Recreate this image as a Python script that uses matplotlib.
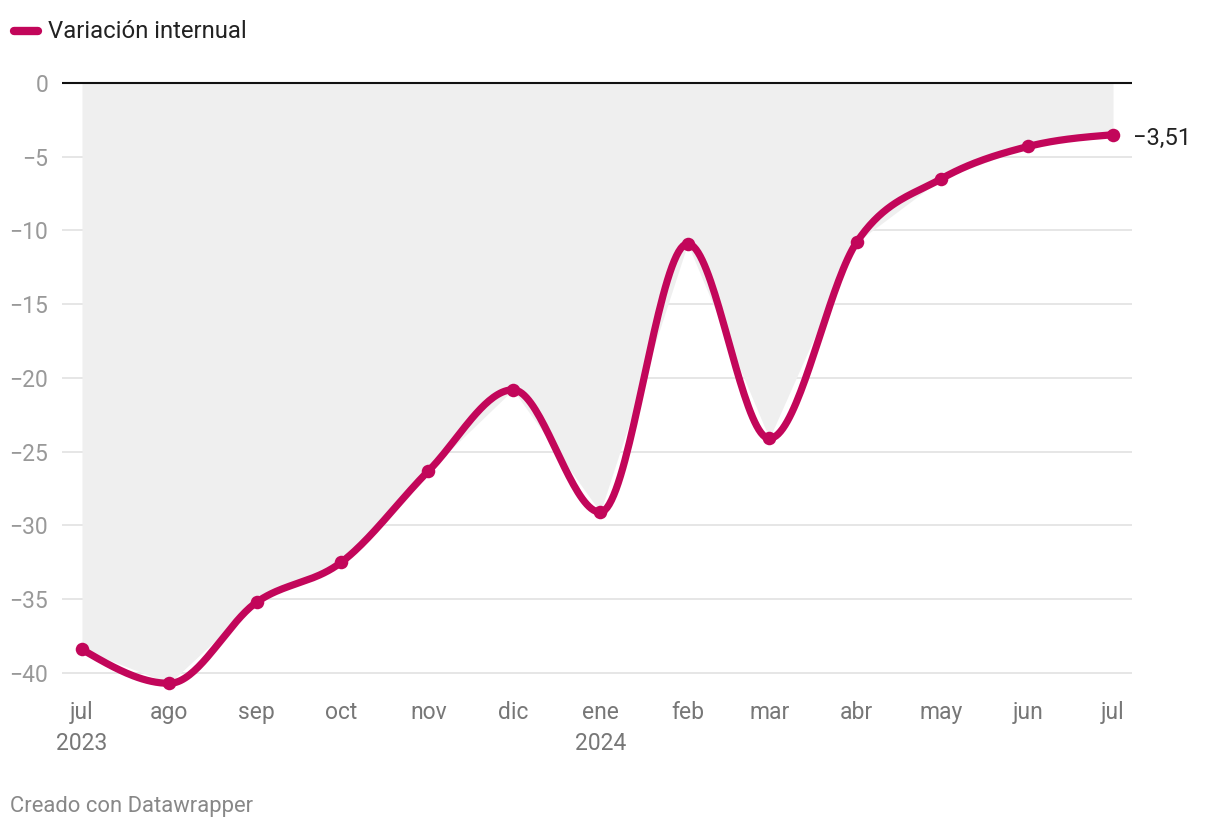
import numpy as np
import matplotlib.pyplot as plt

plt.rcParams['font.family'] = ['Roboto', 'DejaVu Sans']

# data
dates = ['2023-07-01', '2023-08-01', '2023-09-01', '2023-10-01', '2023-11-01',
         '2023-12-01', '2024-01-01', '2024-02-01', '2024-03-01', '2024-04-01',
         '2024-05-01', '2024-06-01', '2024-07-01']
months = ['jul\n2023', 'ago', 'sep', 'oct', 'nov', 'dic', 'ene\n2024',
          'feb', 'mar', 'abr', 'may', 'jun', 'jul']
values = [-38.4, -40.7, -35.2, -32.5, -26.3, -20.8, -29.1,
          -10.9, -24.1, -10.8, -6.5, -4.3, -3.51]
yticks = [0, -5, -10, -15, -20, -25, -30, -35, -40]

col = '#c2065a'


def monotone(x, y, n=40):
    # d3 curveMonotoneX style (Fritsch-Carlson)
    x = np.asarray(x, float)
    y = np.asarray(y, float)
    h = np.diff(x)
    s = np.diff(y) / h
    m = np.zeros_like(y)
    for i in range(1, len(y) - 1):
        if s[i - 1] * s[i] <= 0:
            m[i] = 0
        else:
            p = (s[i - 1] * h[i] + s[i] * h[i - 1]) / (h[i - 1] + h[i])
            m[i] = (np.sign(s[i - 1]) + np.sign(s[i])) * min(abs(s[i - 1]), abs(s[i]), 0.5 * abs(p))
    m[0] = (3 * s[0] - m[1]) / 2 if s[0] * ((3 * s[0] - m[1]) / 2) > 0 else 0
    m[-1] = (3 * s[-1] - m[-2]) / 2 if s[-1] * ((3 * s[-1] - m[-2]) / 2) > 0 else 0
    xs, ys = [], []
    for i in range(len(x) - 1):
        t = np.linspace(0, 1, n)
        h00 = 2 * t**3 - 3 * t**2 + 1
        h10 = t**3 - 2 * t**2 + t
        h01 = -2 * t**3 + 3 * t**2
        h11 = t**3 - t**2
        xs.append(x[i] + t * h[i])
        ys.append(h00 * y[i] + h10 * h[i] * m[i] + h01 * y[i + 1] + h11 * h[i] * m[i + 1])
    return np.concatenate(xs), np.concatenate(ys)


d = np.array(dates, dtype='datetime64[D]')
x = (d - d[0]).astype(float)
cx, cy = monotone(x, values)

span = x[-1]
px = span / 1031.0  # days per pixel

fig = plt.figure(figsize=(12.2, 8.3), dpi=100)
ax = fig.add_axes([62 / 1220, 130 / 830, 1070 / 1220, 625 / 830])
ax.set_xlim(-20 * px, span + 19 * px)
ax.set_ylim(-41.83, 0.54)

ax.fill_between(x, values, 0, color='#efefef', lw=0, zorder=1)
for yt in yticks[1:]:
    ax.axhline(yt, color='#e1e1e1', lw=1.2, zorder=0)
ax.axhline(0, color='#111111', lw=1.5, zorder=2)

ax.plot(cx, cy, color=col, lw=5.2, solid_capstyle='round', zorder=3, clip_on=False)
ax.scatter(x, values, s=95, color=col, zorder=4, clip_on=False, lw=0)

ax.annotate('\u22123,51', (span, values[-1]), xytext=(20, -4), textcoords='offset pixels',
            fontsize=17, color='#222222', va='center', ha='left')

for sp in ax.spines.values():
    sp.set_visible(False)
ax.set_yticks(yticks)
ax.set_yticklabels([str(v).replace('-', '\u2212') for v in yticks])
ax.set_xticks(x)
ax.set_xticklabels(months, linespacing=1.4)
ax.tick_params(axis='y', length=0, pad=10, labelsize=16.5, labelcolor='#999999')
ax.tick_params(axis='x', length=0, pad=1, labelsize=16.5, labelcolor='#777777')

# legend
fig.add_artist(plt.Line2D([14 / 1220, 38 / 1220], [1 - 31 / 830, 1 - 31 / 830],
                          color=col, lw=6, solid_capstyle='round'))
fig.text(48 / 1220, 1 - 31 / 830, 'Variación internual', fontsize=17.2,
         color='#222222', va='center', ha='left')
fig.text(10 / 1220, 1 - 806 / 830, 'Creado con Datawrapper', fontsize=15.8,
         color='#888888', va='center', ha='left')

fig.savefig('out.png', dpi=100)
